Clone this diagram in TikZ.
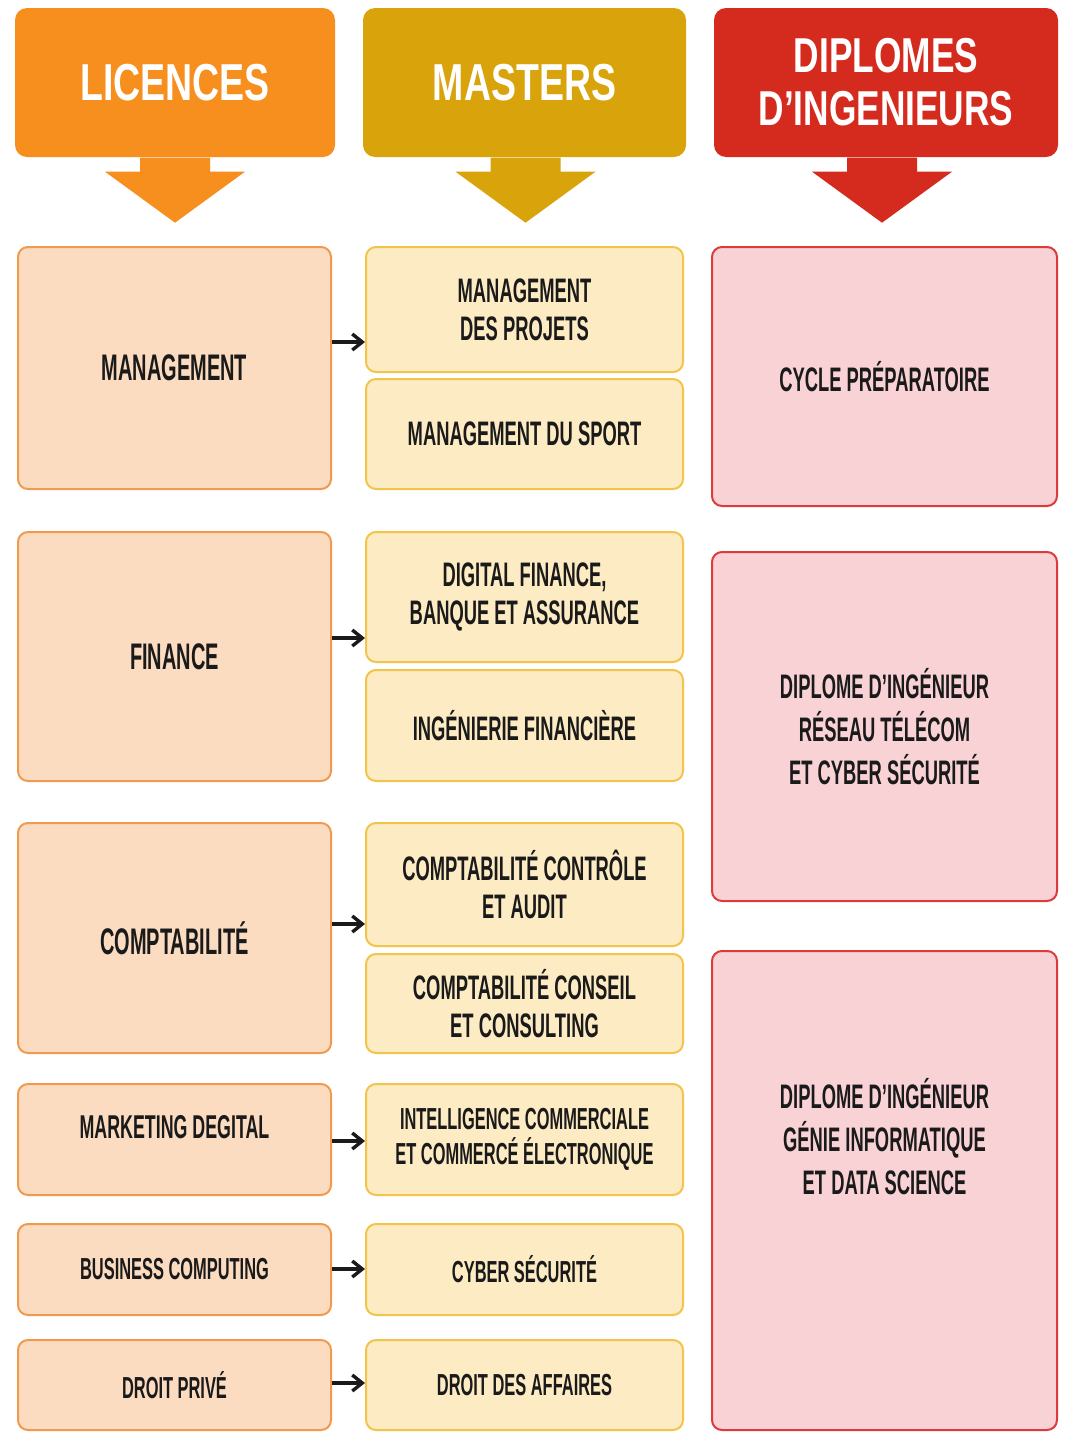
\documentclass[tikz,border=0pt]{standalone}
\usepackage{fontspec}
\newfontfamily\headfont[FakeStretch=0.72]{Liberation Sans}
\newfontfamily\boxfont[FakeStretch=0.54]{Liberation Sans}
\usetikzlibrary{calc, arrows.meta}

\definecolor{licHead}{HTML}{F78F1E}
\definecolor{masHead}{HTML}{D9A40B}
\definecolor{ingHead}{HTML}{D52B1E}
\definecolor{licFill}{HTML}{FCDCC0}
\definecolor{licLine}{HTML}{F09A50}
\definecolor{masFill}{HTML}{FDEBC3}
\definecolor{masLine}{HTML}{F3C44A}
\definecolor{ingFill}{HTML}{F9D2D6}
\definecolor{ingLine}{HTML}{DD3B3B}
\definecolor{ink}{HTML}{1A1A1A}

\tikzset{
  sz/.style 2 args={minimum width=#1*0.5pt, minimum height=#2*0.5pt},
  head/.style={fill=#1, rounded corners=6pt, text=white, align=center, inner sep=0pt,
    font={\headfont\bfseries\fontsize{26}{26.5}\selectfont}},
  cell/.style={rounded corners=5pt, line width=1pt, align=center, inner sep=0pt, text=ink,
    font={\boxfont\bfseries\fontsize{17}{19}\selectfont}},
  lic/.style={cell, draw=licLine, fill=licFill},
  big/.style={font={\boxfont\bfseries\fontsize{18.5}{20}\selectfont}},
  mas/.style={cell, draw=masLine, fill=masFill},
  ing/.style={cell, draw=ingLine, fill=ingFill,
    font={\boxfont\bfseries\fontsize{17}{21.5}\selectfont}},
  small/.style={font={\boxfont\bfseries\fontsize{15.2}{17.5}\selectfont}},
  label txt/.style={align=center, inner sep=0pt, text=ink},
}

\begin{document}
\begin{tikzpicture}[x=0.5pt, y=-0.5pt, ->, >={Straight Barb[length=5pt, width=8pt]}, line width=1.7pt]
  \fill[white] (0,0) rectangle (1080,1456);
  \useasboundingbox (0,0) rectangle (1080,1456);

  % headers
  \node[head=licHead, sz={320}{149}] (h1) at (175,82.5) {LICENCES};
  \node[head=masHead, sz={323}{149}] (h2) at (524.5,82.5) {MASTERS};
  \node[head=ingHead, sz={344}{149}, font={\headfont\bfseries\fontsize{24.5}{26.5}\selectfont}] (h3) at (886,82.5) {DIPLOMES\\D’INGENIEURS};
  \foreach \n/\c/\dx in {h1/licHead/0, h2/masHead/1, h3/ingHead/-4}
    \fill[\c] ($(\n.south)+(\dx-35,-1)$) -- ++(0,14) -- ++(-35,0) -- ($(\n.south)+(\dx,64)$)
      -- ($(\n.south)+(\dx+70,13)$) -- ++(-35,0) -- ++(0,-14) -- cycle;

  % licences
  \node[lic, big, sz={313}{242}] (l1) at (174.5,368) {MANAGEMENT};
  \node[lic, big, sz={313}{249}] (l2) at (174.5,656.5) {FINANCE};
  \node[lic, big, sz={313}{230}] (l3) at (174.5,938) {COMPTABILITÉ};
  \node[lic, sz={313}{111}] (l4) at (174.5,1139.5) {};
  \node[label txt, font={\boxfont\bfseries\fontsize{16.5}{18}\selectfont}] (l4t) at ($(l4.center)+(0,-12)$) {MARKETING DEGITAL};
  \node[lic, small, sz={313}{91}] (l5) at (174.5,1269.5) {BUSINESS COMPUTING};
  \node[lic, small, sz={313}{90}] (l6) at (174.5,1385) {DROIT PRIVÉ};

  % masters
  \node[mas, sz={317}{125}] (m1) at (524.5,309.5) {MANAGEMENT\\DES PROJETS};
  \node[mas, sz={317}{110}] (m2) at (524.5,434) {MANAGEMENT DU SPORT};
  \node[mas, sz={317}{130}] (m3) at (524.5,597) {DIGITAL FINANCE,\\BANQUE ET ASSURANCE};
  \node[mas, sz={317}{111}] (m4) at (524.5,725.5) {INGÉNIERIE FINANCIÈRE};
  \node[mas, sz={317}{123}] (m5) at (524.5,884.5) {COMPTABILITÉ CONTRÔLE\\ET AUDIT};
  \node[mas, sz={317}{99}] (m6) at (524.5,1003.5) {COMPTABILITÉ CONSEIL\\ET CONSULTING};
  \node[mas, small, sz={317}{111}] (m7) at (524.5,1139.5) {INTELLIGENCE COMMERCIALE\\ET COMMERCÉ ÉLECTRONIQUE};
  \node[mas, small, sz={317}{91}] (m8) at (524.5,1269.5) {CYBER SÉCURITÉ};
  \node[mas, small, sz={317}{90}] (m9) at (524.5,1385) {DROIT DES AFFAIRES};

  % ingenieurs
  \node[ing, sz={345}{259}] (r1) at (884.5,376.5) {CYCLE PRÉPARATOIRE};
  \node[ing, sz={345}{349}] (r2) at (884.5,726.5) {DIPLOME D’INGÉNIEUR\\RÉSEAU TÉLÉCOM\\ET CYBER SÉCURITÉ};
  \node[ing, sz={345}{479}] (r3) at (884.5,1190.5) {};
  \node[label txt, font={\boxfont\bfseries\fontsize{17}{21.5}\selectfont}] (r3t) at ($(r3.center)+(0,-54)$) {DIPLOME D’INGÉNIEUR\\GÉNIE INFORMATIQUE\\ET DATA SCIENCE};

  % connectors
  \foreach \a/\b/\y in {l1/m1/342, l2/m3/638, l3/m5/924, l4/m7/1141, l5/m8/1269, l6/m9/1383}
    \draw[ink] (\a.east |- 0,\y) -- (\b.west |- 0,\y);
\end{tikzpicture}
\end{document}
